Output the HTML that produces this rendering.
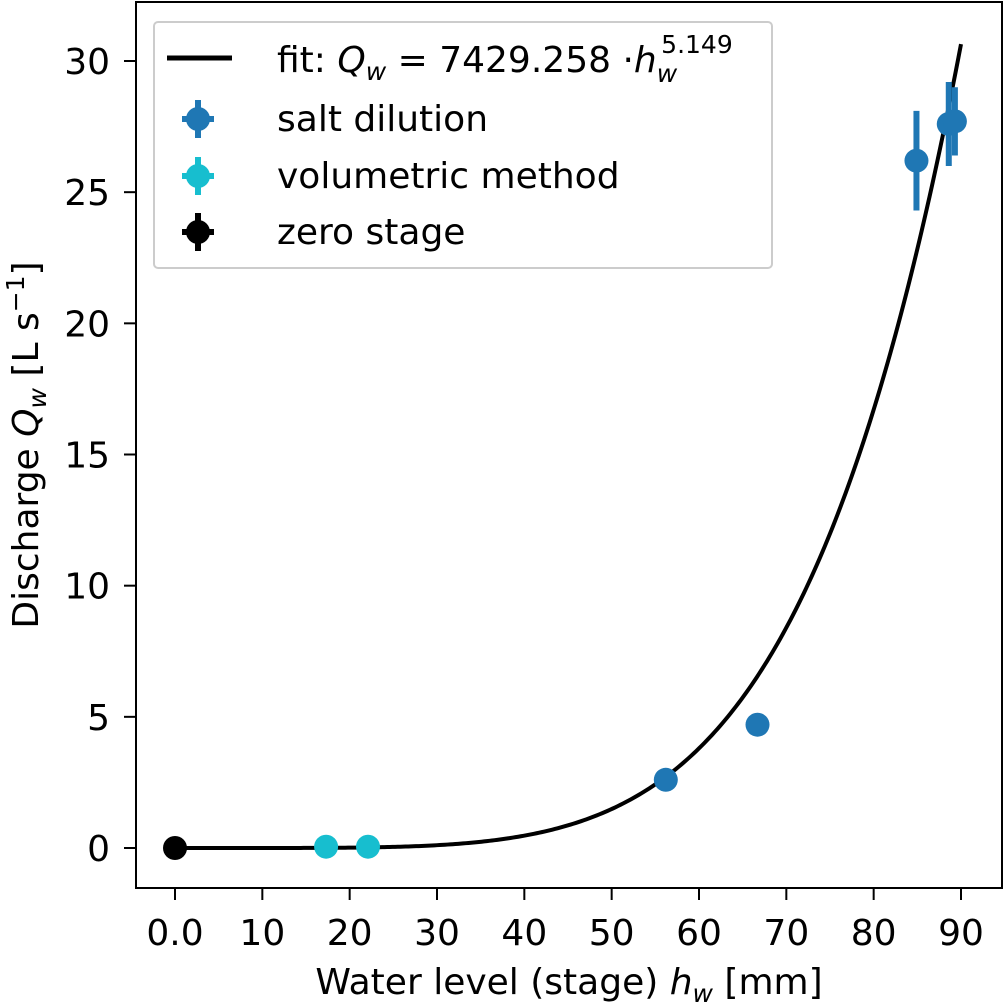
<!DOCTYPE html>
<html><head><meta charset="utf-8"><style>
html,body{margin:0;padding:0;background:#fff}
svg{display:block;font-family:"DejaVu Sans","Liberation Sans",sans-serif}
</style></head><body>
<svg id="chart" width="1004" height="1006" viewBox="0 0 1004 1006" xmlns="http://www.w3.org/2000/svg">
<g id="marks"></g>
<rect x="136" y="2" width="866" height="886" fill="none" stroke="#000" stroke-width="2"/>
<g id="axes"></g>
<g>
<rect x="154" y="22" width="618" height="246" rx="4" fill="#fff" fill-opacity="0.8" stroke="#ccc" stroke-width="2"/>
<line x1="167" y1="58" x2="232" y2="58" stroke="#000" stroke-width="5"/>
<text x="277" y="72" font-size="36">fit: <tspan font-style="oblique">Q</tspan><tspan font-style="oblique" font-size="25" dy="8">w</tspan><tspan dy="-8"> = 7429.258 ·</tspan><tspan font-style="oblique">h</tspan><tspan font-style="oblique" font-size="25" dy="10">w</tspan><tspan font-size="25" dx="-16" dy="-29">5.149</tspan></text>
<g><line x1="198" y1="100" x2="198" y2="138" stroke="#1f77b4" stroke-width="6"/><line x1="182" y1="119" x2="214" y2="119" stroke="#1f77b4" stroke-width="6"/><circle cx="198" cy="119" r="12" fill="#1f77b4"/></g>
<text x="277" y="131" font-size="36">salt dilution</text>
<g><line x1="198" y1="157" x2="198" y2="195" stroke="#17becf" stroke-width="6"/><line x1="182" y1="176" x2="214" y2="176" stroke="#17becf" stroke-width="6"/><circle cx="198" cy="176" r="12" fill="#17becf"/></g>
<text x="277" y="188" font-size="36">volumetric method</text>
<g><line x1="198" y1="213" x2="198" y2="251" stroke="#000" stroke-width="6"/><line x1="182" y1="232" x2="214" y2="232" stroke="#000" stroke-width="6"/><circle cx="198" cy="232" r="12" fill="#000"/></g>
<text x="277" y="244" font-size="36">zero stage</text>
</g>
<text x="569" y="994" font-size="36" text-anchor="middle">Water level (stage) <tspan font-style="oblique">h</tspan><tspan font-style="oblique" font-size="25" dy="8">w</tspan><tspan dy="-8"> [mm]</tspan></text>
<text transform="translate(38,445) rotate(-90)" font-size="36" text-anchor="middle">Discharge <tspan font-style="oblique">Q</tspan><tspan font-style="oblique" font-size="25" dy="8">w</tspan><tspan dy="-8"> [L s</tspan><tspan font-size="25" dy="-14">−1</tspan><tspan dy="14">]</tspan></text>
</svg>
<script>
const xTicks=[0,10,20,30,40,50,60,70,80,90];
const xTickLabels=["0.0","10","20","30","40","50","60","70","80","90"];
const yTicks=[0,5,10,15,20,25,30];
const saltH=[56.2,66.7,84.9,88.6,89.3];
const saltQ=[2.6,4.7,26.2,27.6,27.7];
const saltErr=[0,0,1.9,1.6,1.3];
const volH=[17.3,22.1];
const volQ=[0.05,0.05];
const zeroH=[0];
const zeroQ=[0];
const fitA=7429.258, fitB=5.149;
const NS="http://www.w3.org/2000/svg";
const X=v=>175+v*8.7333;
const Y=v=>848-v*26.233;
function mk(tag,attrs,parent){const e=document.createElementNS(NS,tag);for(const k in attrs)e.setAttribute(k,attrs[k]);parent.appendChild(e);return e;}
const axes=document.getElementById('axes'), marks=document.getElementById('marks');
xTicks.forEach((t,i)=>{
  const l=mk('line',{x1:X(t),x2:X(t),y1:888,y2:900,stroke:'#000','stroke-width':2},axes);
  
  
  const tx=mk('text',{x:X(t),y:945,'font-size':36,'text-anchor':'middle'},axes);
  tx.textContent=xTickLabels[i];
  
  
});
yTicks.forEach(t=>{
  const l=mk('line',{x1:124,x2:136,y1:Y(t),y2:Y(t),stroke:'#000','stroke-width':2},axes);
  
  
  const tx=mk('text',{x:110,y:Y(t)+13,'font-size':36,'text-anchor':'end'},axes);
  tx.textContent=String(t);
  
  
});
let d='';
for(let i=0;i<=300;i++){const h=90*i/300;const q=fitA*Math.pow(h/1000,fitB)*1000;d+=(i?'L':'M')+X(h).toFixed(2)+','+Y(q).toFixed(2);}
const fit=mk('path',{d:d,fill:'none',stroke:'#000','stroke-width':4},marks);


function pts(H,Q,E,color,name){
  H.forEach((h,i)=>{
    const e=E?E[i]:0;
    if(e>0){
      const b=mk('line',{x1:X(h),x2:X(h),y1:Y(Q[i]-e),y2:Y(Q[i]+e),stroke:color,'stroke-width':6},marks);
      
      
    }
    const c=mk('circle',{cx:X(h),cy:Y(Q[i]),r:12,fill:color},marks);
    
    
  });
}
pts(saltH,saltQ,saltErr,'#1f77b4','salt-dilution');
pts(volH,volQ,null,'#17becf','volumetric');
pts(zeroH,zeroQ,null,'#000','zero-stage');
</script>
</body></html>
